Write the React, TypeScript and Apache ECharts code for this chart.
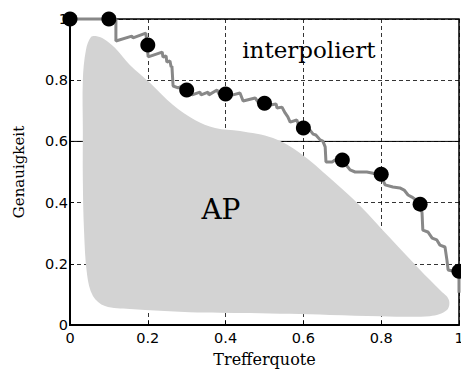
import React, { useEffect, useRef } from "react";
import * as echarts from "echarts";

// Interpolated precision at the 11 standard recall levels
const recallLevels = [0, 0.1, 0.2, 0.3, 0.4, 0.5, 0.6, 0.7, 0.8, 0.9, 1.0];
const interpPrecision = [1, 1, 0.915, 0.768, 0.755, 0.725, 0.644, 0.539, 0.493, 0.395, 0.176];

// Raw (sawtooth) precision-recall curve
const prRecall = [
  0, 0.118, 0.118, 0.159, 0.162, 0.195, 0.198, 0.201, 0.237, 0.239, 0.247, 0.249, 0.257, 0.26, 0.262,
  0.265, 0.278, 0.288, 0.296, 0.314, 0.334, 0.337, 0.355, 0.357, 0.378, 0.383, 0.401, 0.419, 0.437,
  0.445, 0.476, 0.483, 0.499, 0.514, 0.53, 0.532, 0.545, 0.553, 0.56, 0.566, 0.583, 0.589, 0.599,
  0.617, 0.625, 0.632, 0.643, 0.65, 0.656, 0.658, 0.674, 0.681, 0.699, 0.71, 0.72, 0.733, 0.763,
  0.776, 0.799, 0.81, 0.83, 0.848, 0.859, 0.869, 0.879, 0.9, 0.905, 0.907, 0.92, 0.931, 0.943, 0.951,
  0.964, 0.969, 0.972, 0.995, 1.0, 1.0,
];
const prPrecision = [
  1, 1, 0.928, 0.944, 0.938, 0.954, 0.915, 0.876, 0.892, 0.876, 0.879, 0.859, 0.863, 0.843, 0.846,
  0.781, 0.775, 0.781, 0.768, 0.752, 0.761, 0.752, 0.761, 0.752, 0.768, 0.755, 0.758, 0.752, 0.758,
  0.732, 0.742, 0.729, 0.725, 0.719, 0.722, 0.709, 0.712, 0.693, 0.68, 0.663, 0.67, 0.65, 0.644,
  0.637, 0.624, 0.621, 0.605, 0.601, 0.582, 0.533, 0.533, 0.539, 0.539, 0.523, 0.507, 0.5, 0.5,
  0.497, 0.49, 0.458, 0.451, 0.448, 0.441, 0.425, 0.418, 0.399, 0.366, 0.31, 0.304, 0.284, 0.278, 0.261,
  0.255, 0.212, 0.18, 0.173, 0.173, 0.105,
];

// Outline of the grey "AP" area
const apX = [
  0.033, 0.033, 0.041, 0.054, 0.069, 0.087, 0.116, 0.154, 0.206, 0.265, 0.321, 0.373, 0.437, 0.522,
  0.591, 0.668, 0.746, 0.823, 0.9, 0.951, 0.974, 0.969, 0.925, 0.797, 0.668, 0.463, 0.308, 0.154,
  0.09, 0.059, 0.044, 0.036, 0.033,
];
const apY = [
  0.637, 0.801, 0.899, 0.941, 0.944, 0.935, 0.905, 0.85, 0.791, 0.719, 0.67, 0.644, 0.634, 0.611,
  0.562, 0.48, 0.389, 0.284, 0.18, 0.114, 0.082, 0.049, 0.029, 0.029, 0.033, 0.039, 0.042, 0.052,
  0.062, 0.095, 0.163, 0.31, 0.474,
];

const refLineX = [0, 1];
const refLineY = [0.6, 0.6];

const annotations = [
  { name: "interpoliert", x: 0.614, y: 0.899, size: 23 },
  { name: "AP", x: 0.388, y: 0.376, size: 28 },
];

const xTicks = { min: 0, max: 1, interval: 0.2 };
const yTicks = { min: 0, max: 1, interval: 0.2 };

export default function App() {
  const ref = useRef<HTMLDivElement>(null);

  useEffect(() => {
    if (!ref.current) return;
    const chart = echarts.init(ref.current, null, { renderer: "svg" });
    const serif = "DejaVu Serif";
    const sans = "DejaVu Sans";
    const splitLine = {
      show: true,
      lineStyle: { color: "#000", width: 0.8, type: [4, 3] as any },
    };
    chart.setOption({
      animation: false,
      backgroundColor: "#fff",
      grid: {
        left: 70,
        right: 2,
        top: 19,
        bottom: 44,
        outerBoundsMode: "none",
        containLabel: false,
        show: true,
        borderColor: "#000",
        borderWidth: 1.5,
        backgroundColor: "transparent",
      },
      xAxis: {
        type: "value",
        ...xTicks,
        name: "Trefferquote",
        nameLocation: "middle",
        nameGap: 26,
        nameTextStyle: { fontFamily: serif, fontSize: 16, color: "#000" },
        axisLine: { show: true, lineStyle: { color: "#000", width: 2 } },
        axisTick: { show: true, inside: true, length: 4, lineStyle: { color: "#000" } },
        axisLabel: { color: "#000", fontFamily: sans, fontSize: 14.5, margin: 5 },
        splitLine,
      },
      yAxis: {
        type: "value",
        ...yTicks,
        name: "Genauigkeit",
        nameLocation: "middle",
        nameGap: 44,
        nameTextStyle: { fontFamily: serif, fontSize: 15, color: "#000" },
        axisLine: { show: true, lineStyle: { color: "#000", width: 2 } },
        axisTick: { show: true, inside: true, length: 4, lineStyle: { color: "#000" } },
        axisLabel: { color: "#000", fontFamily: sans, fontSize: 14.5, margin: 2 },
        splitLine,
      },
      series: [
        {
          type: "line",
          z: 1,
          data: refLineX.map((x, i) => [x, refLineY[i]]),
          showSymbol: false,
          lineStyle: { color: "#000", width: 1 },
          silent: true,
        },
        {
          type: "custom",
          z: 2,
          data: [0],
          clip: false,
          renderItem: (_params: any, api: any) => {
            const pts = apX.map((x, i) => api.coord([x, apY[i]]));
            return {
              type: "polygon",
              shape: { points: pts, smooth: 0.35 },
              style: { fill: "#d3d3d3", stroke: "none" },
            };
          },
        },
        {
          type: "line",
          z: 3,
          clip: false,
          data: prRecall.map((x, i) => [x, prPrecision[i]]),
          showSymbol: false,
          lineStyle: { color: "#888888", width: 3 },
        },
        {
          type: "scatter",
          z: 4,
          clip: false,
          data: recallLevels.map((x, i) => [x, interpPrecision[i]]),
          symbol: "circle",
          symbolSize: 15,
          itemStyle: { color: "#000", opacity: 1 },
        },
        {
          type: "scatter",
          z: 5,
          clip: false,
          symbolSize: 0,
          itemStyle: { opacity: 1 },
          data: annotations.map((a) => ({
            name: a.name,
            value: [a.x, a.y],
            label: {
              show: true,
              position: "inside",
              formatter: a.name,
              fontFamily: serif,
              fontSize: a.size,
              color: "#000",
              opacity: 1,
            },
          })),
        },
      ],
    });
    return () => chart.dispose();
  }, []);

  return (
    <div
      ref={ref}
      style={{ position: "fixed", left: 0, top: 0, width: 461, height: 369 }}
    />
  );
}
